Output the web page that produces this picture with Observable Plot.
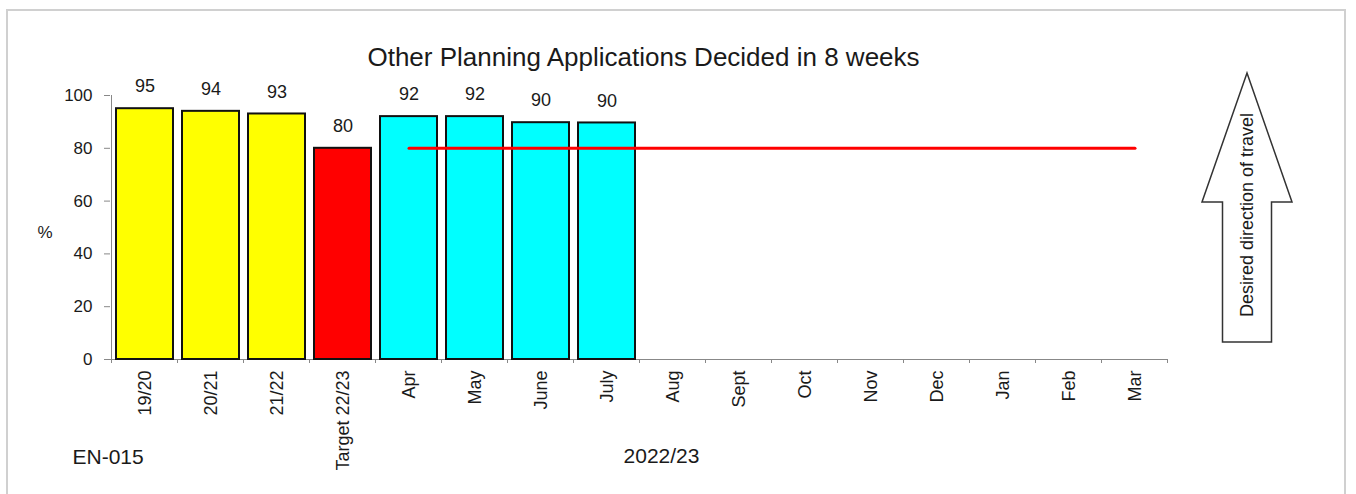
<!DOCTYPE html>
<html><head><meta charset="utf-8">
<script src="https://cdn.jsdelivr.net/npm/d3@7"></script>
<script src="https://cdn.jsdelivr.net/npm/@observablehq/plot@0.6"></script>
<style>
body{margin:0;background:#fff;}
#chart{position:relative;width:1356px;height:494px;overflow:hidden;}
</style>
</head><body><div id="chart"></div>
<script>
const categories = ["19/20","20/21","21/22","Target 22/23","Apr","May","June","July","Aug","Sept","Oct","Nov","Dec","Jan","Feb","Mar"];
const barCategories = ["19/20","20/21","21/22","Target 22/23","Apr","May","June","July"];
const barValues = [95, 94, 93, 80, 92, 92, 89.7, 89.6];
const barGroups = ["year","year","year","target","month","month","month","month"];
const groupNames = ["year","target","month"];
const groupColors = ["#ffff00","#ff0000","#00ffff"];
const targetMonths = ["Apr","May","June","July","Aug","Sept","Oct","Nov","Dec","Jan","Feb","Mar"];
const targetValue = 80;
const yTicks = [0, 20, 40, 60, 80, 100];
const titleText = "Other Planning Applications Decided in 8 weeks";
const yLabel = "%";
const codeText = "EN-015";
const periodText = "2022/23";
const arrowText = "Desired direction of travel";

const bars = barCategories.map((c, i) => ({cat: c, value: barValues[i], group: barGroups[i]}));
const target = targetMonths.map(m => ({cat: m, value: targetValue}));
const font = "'Liberation Sans', Arial, sans-serif";
const ink = "#1a1a1a";

const chart = Plot.plot({
  width: 1356, height: 494,
  marginLeft: 110, marginRight: 188, marginTop: 95, marginBottom: 135,
  style: {fontFamily: font, fontSize: "17px", color: ink, background: "transparent"},
  x: {domain: categories, paddingInner: 0.14, paddingOuter: 0.07, axis: null},
  y: {domain: [0, 100], axis: null},
  color: {domain: groupNames, range: groupColors},
  marks: [
    Plot.axisY({ticks: yTicks, tickSize: 6, tickPadding: 12, label: null, stroke: "#888", fill: ink, fontSize: 17}),
    Plot.axisX({tickSize: 0, tickRotate: -90, tickPadding: 11, label: null, fill: ink, fontSize: 18}),
    Plot.ruleY([0], {stroke: "#888", strokeWidth: 1}),
    Plot.barY(bars, {x: "cat", y: "value", fill: "group", stroke: "#111", strokeWidth: 2}),
    Plot.text(bars, {x: "cat", y: "value", text: d => d3.format(".0f")(d.value), dy: -22, fill: ink, fontSize: 18}),
    Plot.line(target, {x: "cat", y: "value", stroke: "#ff0000", strokeWidth: 3}),
    Plot.text([titleText], {frameAnchor: "top", dx: 4, dy: -48, fontSize: 26, fill: ink}),
    Plot.text([yLabel], {frameAnchor: "left", dx: -73, dy: 5, fontSize: 17, fill: ink}),
    Plot.text([codeText], {frameAnchor: "bottom-left", textAnchor: "start", dx: -38, dy: 104, fontSize: 21, fill: ink}),
    Plot.text([periodText], {frameAnchor: "bottom", dx: 22, dy: 103, fontSize: 21, fill: ink})
  ]
});

const svg = d3.select(chart);
const xs = chart.scale("x");
const ys = chart.scale("y");
const step = xs.step, bw = xs.bandwidth;
const y0 = ys.apply(0), yTop = ys.apply(100);
const bounds = categories.map(c => xs.apply(c) - (step - bw) / 2);
bounds.push(bounds[bounds.length - 1] + step);
// y axis line
svg.append("line").attr("x1", bounds[0]).attr("x2", bounds[0]).attr("y1", yTop).attr("y2", y0 + 4)
  .attr("stroke", "#888");
// category boundary ticks
svg.append("g").selectAll("line").data(bounds).join("line")
  .attr("x1", d => d).attr("x2", d => d).attr("y1", y0).attr("y2", y0 + 4).attr("stroke", "#888");

// border
svg.insert("rect", ":first-child").attr("x", 7).attr("y", 10).attr("width", 1338).attr("height", 520)
  .attr("fill", "none").attr("stroke", "#d0d0d0").attr("stroke-width", 2);

// direction arrow
const ax = 1247, tipY = 73, headY = 202, baseY = 342, headHalf = 45, shaftHalf = 24.5;
svg.append("path")
  .attr("d", `M${ax},${tipY} L${ax + headHalf},${headY} L${ax + shaftHalf},${headY} L${ax + shaftHalf},${baseY} L${ax - shaftHalf},${baseY} L${ax - shaftHalf},${headY} L${ax - headHalf},${headY} Z`)
  .attr("fill", "#fff").attr("stroke", "#333").attr("stroke-width", 1.5);
svg.append("text").attr("transform", `translate(${ax},${215}) rotate(-90)`)
  .attr("text-anchor", "middle").attr("dominant-baseline", "central")
  .attr("font-family", font).attr("font-size", 18).attr("fill", ink).text(arrowText);

document.getElementById("chart").appendChild(chart);
</script>
</body></html>
